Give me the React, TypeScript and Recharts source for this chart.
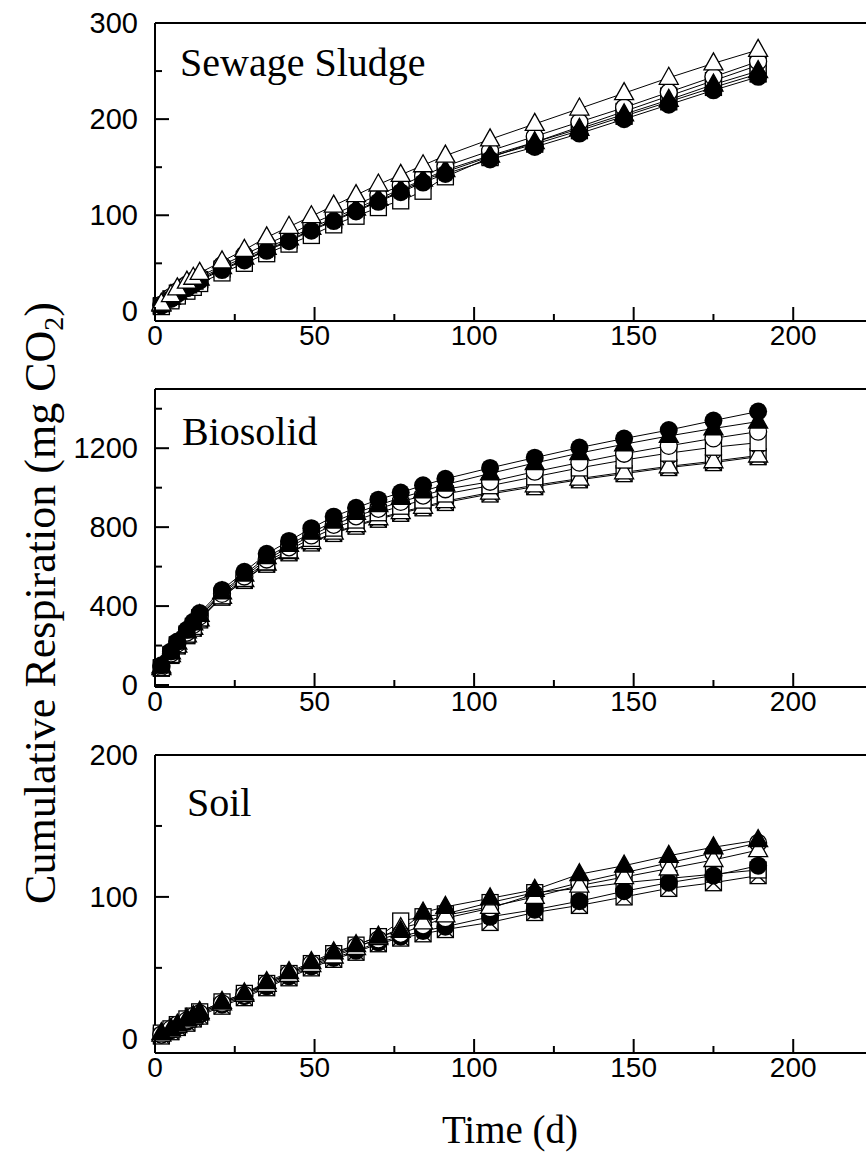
import React from "react";
import { LineChart, Line, XAxis, YAxis, ReferenceLine } from "recharts";

// sampling days (d)
const days = [2, 5, 7, 10, 12, 14, 21, 28, 35, 42, 49, 56, 63, 70, 77, 84, 91, 105, 119, 133, 147, 161, 175, 189];

// Sewage sludge, cumulative mg CO2
const sludgeOpenTri = [8, 17, 24, 31, 35, 40, 52, 64, 77, 88, 99, 110, 121, 132, 142, 152, 162, 179, 195, 211, 227, 243, 258, 272];
const sludgeOpenCircle = [7, 15, 21, 28, 32, 36, 48, 59, 70, 80, 91, 101, 111, 121, 131, 141, 151, 167, 182, 197, 212, 228, 244, 260];
const sludgeOpenSquare = [5, 11, 16, 21, 25, 29, 40, 50, 60, 70, 79, 90, 99, 108, 115, 125, 140, 160, 176, 192, 208, 224, 240, 256];
const sludgeFilledTri = [7, 14, 20, 26, 30, 34, 46, 56, 66, 76, 87, 97, 107, 117, 127, 137, 147, 162, 176, 190, 205, 220, 236, 250];
const sludgeCrossSquare = [6, 13, 19, 25, 29, 33, 44, 54, 64, 74, 85, 95, 105, 115, 125, 136, 145, 161, 174, 188, 203, 218, 233, 247];
const sludgeFilledCircle = [6, 13, 18, 24, 28, 32, 43, 53, 63, 73, 84, 94, 104, 114, 124, 134, 143, 158, 171, 185, 200, 215, 230, 244];

// Biosolid
const bioFilledCircle = [100, 170, 220, 280, 320, 365, 482, 574, 665, 730, 795, 853, 898, 939, 975, 1012, 1045, 1100, 1152, 1203, 1249, 1292, 1340, 1386];
const bioFilledTri = [95, 165, 215, 272, 312, 355, 470, 560, 648, 710, 772, 828, 872, 912, 948, 982, 1016, 1072, 1125, 1175, 1220, 1262, 1300, 1335];
const bioOpenCircle = [92, 160, 210, 266, 305, 348, 462, 550, 636, 698, 758, 812, 855, 893, 928, 960, 992, 1030, 1081, 1127, 1172, 1212, 1250, 1284];
const bioOpenSquare = [88, 155, 204, 258, 297, 340, 452, 540, 624, 685, 743, 795, 836, 873, 906, 937, 968, 1010, 1055, 1100, 1140, 1175, 1205, 1228];
const bioCrossSquare = [85, 150, 198, 250, 288, 330, 445, 530, 612, 670, 720, 768, 805, 840, 870, 898, 925, 968, 1005, 1040, 1071, 1102, 1127, 1157];
const bioOpenTri = [86, 152, 200, 252, 290, 333, 447, 532, 615, 673, 724, 772, 810, 845, 876, 903, 932, 975, 1012, 1046, 1078, 1108, 1134, 1163];

// Soil
const soilFilledTri = [4, 7, 10, 14, 16, 19, 26, 32, 40, 47, 54, 61, 66, 72, 76, 89, 93, 99, 105, 116, 122, 129, 135, 140];
const soilOpenCircle = [3, 7, 10, 13, 16, 18, 25, 31, 39, 46, 53, 59, 65, 70, 74, 80, 85, 92, 102, 110, 117, 124, 131, 138];
const soilOpenTri = [3, 6, 9, 13, 15, 18, 25, 31, 38, 45, 52, 58, 64, 71, 78, 82, 87, 93, 100, 108, 114, 120, 126, 133];
const soilOpenSquare = [4, 7, 10, 14, 16, 19, 26, 32, 39, 46, 53, 60, 66, 72, 83, 86, 88, 96, 103, 106, 110, 113, 116, 119];
const soilFilledCircle = [3, 6, 9, 12, 15, 17, 24, 30, 37, 44, 51, 57, 62, 68, 72, 76, 79, 86, 91, 97, 104, 110, 115, 122];
const soilCrossSquare = [2, 5, 8, 11, 14, 16, 23, 29, 36, 43, 50, 56, 61, 67, 71, 74, 77, 82, 89, 94, 100, 106, 110, 115];

const xTicks = [0, 25, 50, 75, 100, 125, 150, 175, 200, 225];
const xLabels = [0, 50, 100, 150, 200];

const PAD_TOP = 30;
const PLOT_H = 298;
const PAD_BOTTOM = 50;
const SERIF = '"Liberation Serif", "Times New Roman", serif';
const SANS = '"Liberation Sans", Arial, sans-serif';

type Shape = "fcircle" | "ocircle" | "ftri" | "otri" | "osq" | "xsq";
type Series = { key: string; values: number[]; shape: Shape };

function Marker({ cx, cy, shape }: { cx?: number; cy?: number; shape: Shape }) {
  if (cx == null || cy == null) return null;
  const sw = 1.3;
  switch (shape) {
    case "fcircle":
      return <circle cx={cx} cy={cy} r={9} fill="#000" />;
    case "ocircle":
      return <circle cx={cx} cy={cy} r={8.5} fill="#fff" stroke="#000" strokeWidth={sw} />;
    case "ftri":
    case "otri":
      return (
        <polygon
          points={`${cx},${cy - 10.5} ${cx + 9.5},${cy + 6.5} ${cx - 9.5},${cy + 6.5}`}
          fill={shape === "ftri" ? "#000" : "#fff"}
          stroke="#000"
          strokeWidth={sw}
        />
      );
    case "osq":
      return <rect x={cx - 8} y={cy - 8} width={16} height={16} fill="#fff" stroke="#000" strokeWidth={sw} />;
    case "xsq":
      return (
        <g stroke="#000" strokeWidth={sw}>
          <rect x={cx - 8} y={cy - 8} width={16} height={16} fill="#fff" />
          <line x1={cx - 8} y1={cy - 8} x2={cx + 8} y2={cy + 8} />
          <line x1={cx - 8} y1={cy + 8} x2={cx + 8} y2={cy - 8} />
        </g>
      );
  }
  return null;
}

function XTick(props: any) {
  const { x, y, payload } = props;
  const major = xLabels.includes(payload.value);
  return (
    <g>
      <line x1={x} x2={x} y1={y} y2={y - (major ? 14 : 7)} stroke="#000" strokeWidth={2} />
      {major && (
        <text x={x} y={y + 24} textAnchor="middle" fontFamily={SANS} fontSize={28} fill="#000">
          {payload.value}
        </text>
      )}
    </g>
  );
}

function YTick(props: any) {
  const { x, y, payload, labels } = props;
  const major = labels.includes(payload.value);
  return (
    <g>
      <line x1={x} x2={x + (major ? 14 : 7)} y1={y} y2={y} stroke="#000" strokeWidth={2} />
      {major && (
        <text x={x - 17} y={y + 10} textAnchor="end" fontFamily={SANS} fontSize={29} fill="#000">
          {payload.value}
        </text>
      )}
    </g>
  );
}

function Panel({
  top,
  series,
  yDomain,
  yTicks,
  yLabels,
}: {
  top: number;
  series: Series[];
  yDomain: [number, number];
  yTicks: number[];
  yLabels: number[];
}) {
  const rows = days.map((d, i) => {
    const r: Record<string, number> = { day: d };
    series.forEach((s) => (r[s.key] = s.values[i]));
    return r;
  });
  return (
    <div style={{ position: "absolute", left: 0, top: top - PAD_TOP }}>
      <LineChart
        width={880}
        height={PAD_TOP + PLOT_H + PAD_BOTTOM}
        data={rows}
        margin={{ top: PAD_TOP, right: 7, left: 0, bottom: 0 }}
      >
        <XAxis
          dataKey="day"
          type="number"
          domain={[0, 225]}
          ticks={xTicks}
          interval={0}
          tickSize={0}
          tickMargin={0}
          tickLine={false}
          axisLine={{ stroke: "#000", strokeWidth: 2 }}
          tick={(p: any) => <XTick {...p} />}
          height={PAD_BOTTOM}
        />
        <YAxis
          type="number"
          domain={yDomain}
          ticks={yTicks}
          interval={0}
          width={155}
          tickSize={0}
          tickMargin={0}
          tickLine={false}
          axisLine={{ stroke: "#000", strokeWidth: 2 }}
          tick={(p: any) => <YTick {...p} labels={yLabels} />}
        />
        <ReferenceLine y={yDomain[1]} stroke="#000" strokeWidth={2} />
        {series.map((s) => (
          <Line
            key={s.key}
            dataKey={s.key}
            type="linear"
            stroke="#000"
            strokeWidth={1}
            isAnimationActive={false}
            activeDot={false}
            dot={(p: any) => <Marker key={`${s.key}-${p.index}`} cx={p.cx} cy={p.cy} shape={s.shape} />}
          />
        ))}
      </LineChart>
    </div>
  );
}

const sludgeSeries: Series[] = [
  { key: "xsq", values: sludgeCrossSquare, shape: "xsq" },
  { key: "osq", values: sludgeOpenSquare, shape: "osq" },
  { key: "ocircle", values: sludgeOpenCircle, shape: "ocircle" },
  { key: "ftri", values: sludgeFilledTri, shape: "ftri" },
  { key: "fcircle", values: sludgeFilledCircle, shape: "fcircle" },
  { key: "otri", values: sludgeOpenTri, shape: "otri" },
];

const bioSeries: Series[] = [
  { key: "xsq", values: bioCrossSquare, shape: "xsq" },
  { key: "otri", values: bioOpenTri, shape: "otri" },
  { key: "osq", values: bioOpenSquare, shape: "osq" },
  { key: "ocircle", values: bioOpenCircle, shape: "ocircle" },
  { key: "ftri", values: bioFilledTri, shape: "ftri" },
  { key: "fcircle", values: bioFilledCircle, shape: "fcircle" },
];

const soilSeries: Series[] = [
  { key: "xsq", values: soilCrossSquare, shape: "xsq" },
  { key: "osq", values: soilOpenSquare, shape: "osq" },
  { key: "fcircle", values: soilFilledCircle, shape: "fcircle" },
  { key: "ocircle", values: soilOpenCircle, shape: "ocircle" },
  { key: "otri", values: soilOpenTri, shape: "otri" },
  { key: "ftri", values: soilFilledTri, shape: "ftri" },
];

export default function App() {
  return (
    <div
      style={{
        position: "absolute",
        left: 0,
        top: 0,
        width: 866,
        height: 1161,
        overflow: "hidden",
        background: "#fff",
      }}
    >
      <Panel
        top={23}
        series={sludgeSeries}
        yDomain={[-10, 300]}
        yTicks={[0, 50, 100, 150, 200, 250, 300]}
        yLabels={[0, 100, 200, 300]}
      />
      <Panel
        top={389}
        series={bioSeries}
        yDomain={[-10, 1500]}
        yTicks={[0, 200, 400, 600, 800, 1000, 1200, 1400]}
        yLabels={[0, 400, 800, 1200]}
      />
      <Panel
        top={755}
        series={soilSeries}
        yDomain={[-10, 200]}
        yTicks={[0, 50, 100, 150, 200]}
        yLabels={[0, 100, 200]}
      />
      <svg
        width={866}
        height={1161}
        style={{ position: "absolute", left: 0, top: 0, pointerEvents: "none" }}
      >
        <g fontFamily={SERIF} fill="#000">
          <text x={180} y={76} fontSize={40}>Sewage Sludge</text>
          <text x={182} y={445} fontSize={40}>Biosolid</text>
          <text x={187} y={816} fontSize={40}>Soil</text>
          <text x={510} y={1143} fontSize={39} textAnchor="middle">Time (d)</text>
          <text transform="translate(55,603) rotate(-90)" fontSize={44} textAnchor="middle">
            Cumulative Respiration (mg CO
            <tspan fontSize={28} dy={8}>2</tspan>
            <tspan dy={-8}>)</tspan>
          </text>
        </g>
      </svg>
    </div>
  );
}
